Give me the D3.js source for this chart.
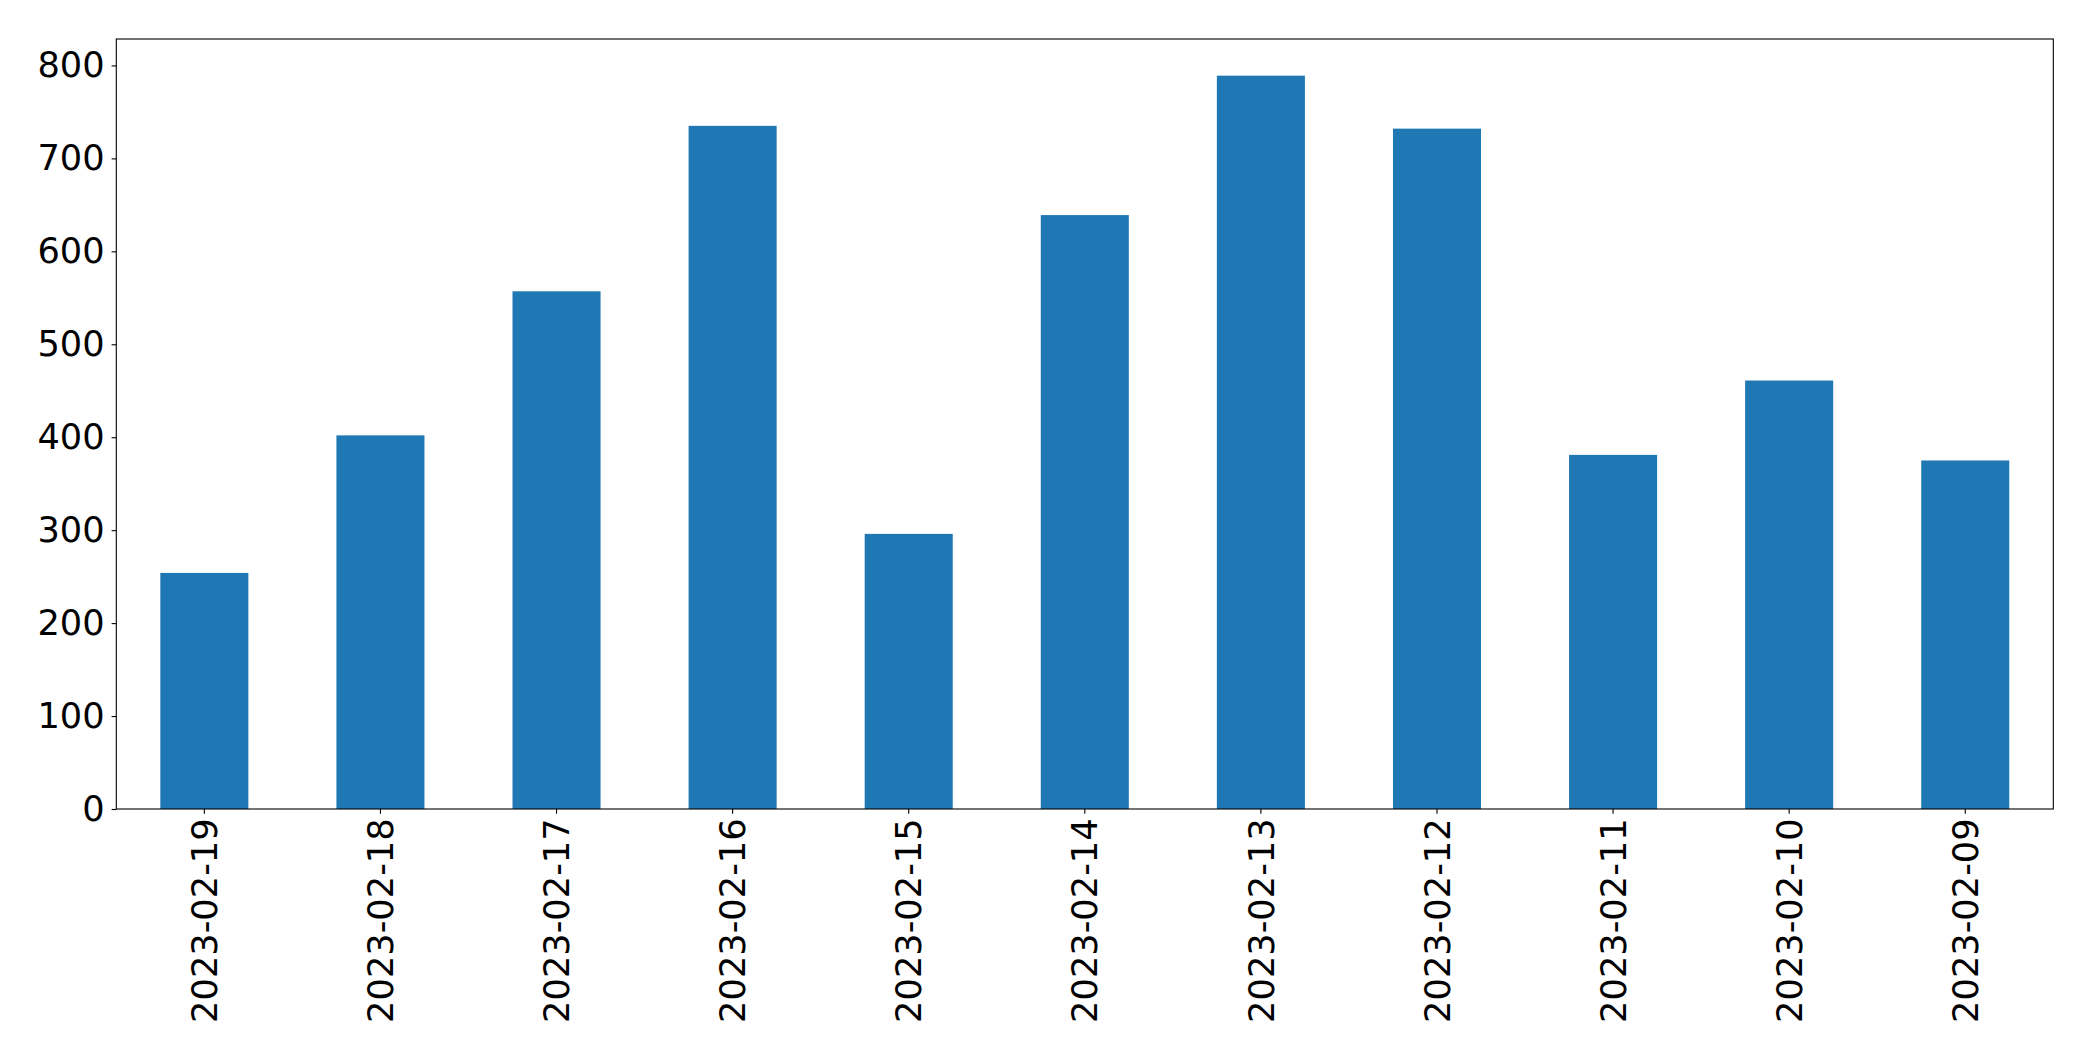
<!DOCTYPE html>
<html>
<head>
<meta charset="utf-8">
<script src="https://cdn.jsdelivr.net/npm/d3@7"></script>
<style>
  body { margin: 0; background: #fff; }
  text { font-family: "DejaVu Sans", sans-serif; }
</style>
</head>
<body>
<div id="chart"></div>
<script>
const dates = ['2023-02-19', '2023-02-18', '2023-02-17', '2023-02-16', '2023-02-15', '2023-02-14',
               '2023-02-13', '2023-02-12', '2023-02-11', '2023-02-10', '2023-02-09']
const counts = [254, 402, 557, 735, 296, 639, 789, 732, 381, 461, 375]
const yTicks = [0, 100, 200, 300, 400, 500, 600, 700, 800]

const w = 2093
const h = 1061
const plotLeft = 116.3, plotRight = 2053.3, plotTop = 39, plotBottom = 809
const fontSize = 35.2

const data = dates.map((d, i) => ({ date: d, count: counts[i] }))

const xScale = d3.scaleBand()
    .domain(dates)
    .range([plotLeft, plotRight])
    .paddingInner(0.5)
    .paddingOuter(0.25)

const yScale = d3.scaleLinear()
    .domain([0, d3.max(counts) * 1.05])
    .range([plotBottom, plotTop])

const svg = d3.select("#chart")
    .append("svg")
    .attr("width", w)
    .attr("height", h)

svg.selectAll("rect.bar")
    .data(data)
    .enter()
    .append("rect")
    .attr("class", "bar")
    .attr("x", d => xScale(d.date))
    .attr("y", d => yScale(d.count))
    .attr("width", xScale.bandwidth())
    .attr("height", d => yScale(0) - yScale(d.count))
    .style("fill", "#1f77b4")

const xAxis = d3.axisBottom(xScale).tickSize(4.7).tickSizeOuter(0)
const yAxis = d3.axisLeft(yScale).tickValues(yTicks).tickFormat(d3.format("d")).tickSize(4.7).tickPadding(7)

const gx = svg.append("g")
    .attr("transform", "translate(0," + plotBottom + ")")
    .call(xAxis)

gx.selectAll("text")
    .attr("y", 0)
    .attr("x", -9.4)
    .attr("dy", "0.36em")
    .attr("transform", "rotate(-90)")
    .style("text-anchor", "end")

const gy = svg.append("g")
    .attr("transform", "translate(" + plotLeft + ",0)")
    .call(yAxis)

svg.selectAll(".domain").remove()
svg.selectAll(".tick line").attr("stroke", "#000").attr("stroke-width", 1.1)
svg.selectAll(".tick text").attr("fill", "#000").style("font-size", fontSize + "px")

// frame round the plot area
svg.append("rect")
    .attr("x", plotLeft)
    .attr("y", plotTop)
    .attr("width", plotRight - plotLeft)
    .attr("height", plotBottom - plotTop)
    .attr("fill", "none")
    .attr("stroke", "#000")
    .attr("stroke-width", 1.1)
</script>
</body>
</html>
